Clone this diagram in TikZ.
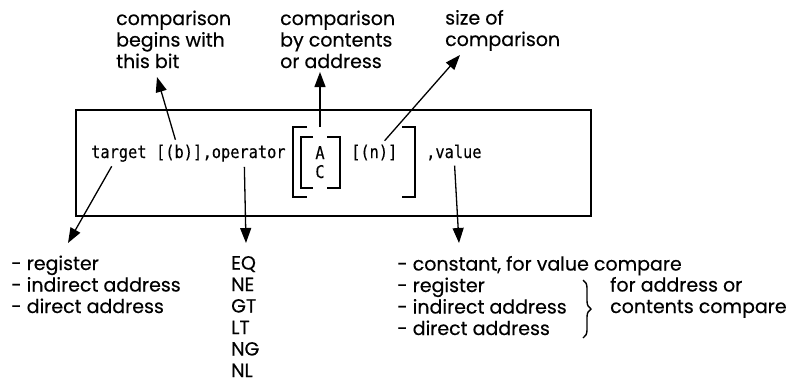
\documentclass[tikz,border=0pt]{standalone}
\usepackage{fontspec}
\setmainfont[FakeBold=0.4]{Poppins}
\setmonofont[FakeStretch=0.875, FakeBold=0.3]{DejaVu Sans Mono}
\usetikzlibrary{arrows.meta, positioning, decorations.pathreplacing}

\begin{document}
\begin{tikzpicture}
            [x=1pt, y=-1pt, >={Triangle[length=15pt,width=11pt]},
            note/.style={align=left, anchor=base west, inner sep=0pt,
              font=\fontsize{19}{21.5}\selectfont},
            code/.style={anchor=base west, inner sep=0pt,
              font=\ttfamily\fontsize{17.5}{19}\selectfont},
            pointer/.style={->, line width=1.3pt, shorten <=5pt},
            frame/.style={line width=1.2pt}]

            \useasboundingbox (0,0) rectangle (790,381);

            % statement line
            \draw[frame] (76,110) rectangle (591,216);
            \node[code] (target) at (91,158) {target};
            \node[code] (bsel) [base right=9.2pt of target] {[(b)]};
            \node[code] (oper) [base right=0pt of bsel] {,operator};
            \node[code, anchor=base] (optA) at (320,159) {A};
            \node[code, anchor=base] (optC) at (320,178) {C};
            \node[code] (size) at (351,158) {[(n)]};
            \node[code] (value) at (426,158) {,value};

            \draw[frame] (307,127) -- (293,127) -- (293,197) -- (307,197);
            \draw[frame] (313,137) -- (301,137) -- (301,188) -- (313,188);
            \draw[frame] (327,137) -- (340,137) -- (340,188) -- (327,188);
            \draw[frame] (402,127) -- (415,127) -- (415,197) -- (402,197);

            % notes above (base is the last line)
            \node[note] (bitnote) at (116,68) {comparison\\begins with\\this bit};
            \node[note] (modenote) at (280,68) {comparison\\by contents\\or address};
            \node[note] (sizenote) at (445,46) {size of\\comparison};

            % notes below
            \node[note] (tgtlist) at (11,313) {- register\\- indirect address\\- direct address};
            \node[note] (oplist) at (231,377) {EQ\\NE\\GT\\LT\\NG\\NL};
            \node[note] (vallist) at (397,335)
              {- constant, for value compare\\- register\\- indirect address\\- direct address};
            \node[note] (addrnote) at (610,313) {for address or\\contents compare};
            \draw[line width=1.4pt, decorate, decoration={brace, amplitude=8pt}]
              (583,280) -- (583,338);

            \coordinate (bittip) at (157,77);
            \coordinate (modetip) at (320,72);
            \coordinate (sizetip) at (460,55);
            \coordinate (tgttip) at (68,243);
            \coordinate (optip) at (246,243);
            \coordinate (valtip) at (459,243);

            \draw[pointer] (bsel) -- (bittip);
            \draw[pointer, shorten <=19pt] (optA) -- (modetip);
            \draw[pointer] (size) -- (sizetip);
            \draw[pointer] (target) -- (tgttip);
            \draw[pointer] (oper) -- (optip);
            \draw[pointer] (value) -- (valtip);

          \end{tikzpicture}
\end{document}
